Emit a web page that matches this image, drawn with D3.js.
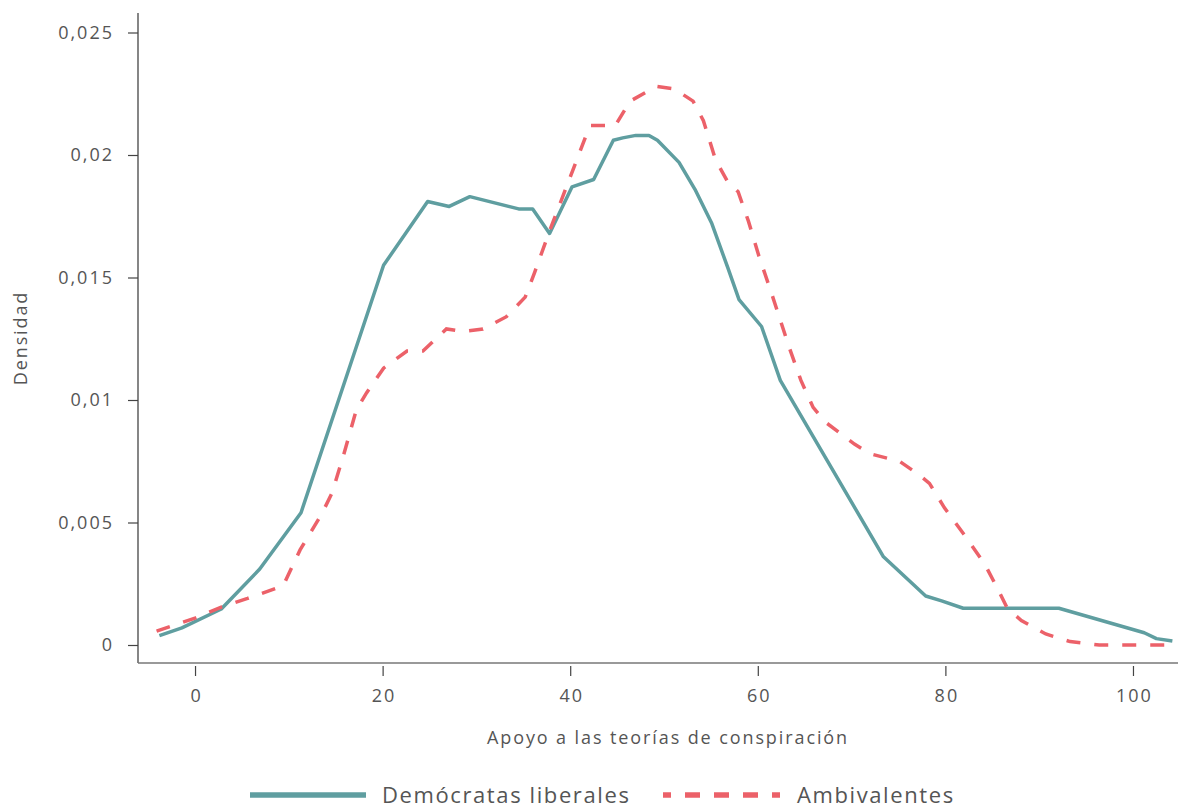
<!DOCTYPE html>
<html>
<head>
<meta charset="utf-8">
<script src="https://cdn.jsdelivr.net/npm/d3@7"></script>
<style>
  html, body { margin: 0; padding: 0; background: #fff; }
  svg { display: block; font-family: "Open Sans", sans-serif; }
</style>
</head>
<body>
<script>
// ---------- data ----------
const seriesNames = ["Demócratas liberales", "Ambivalentes"];
const seriesColors = ["#5f9ea0", "#ec6169"];

const demX = [-3.8, -1.4, 2.8, 6.9, 11.3, 20.1, 24.8, 27.1, 29.3, 34.5, 36.0, 37.8, 40.2, 42.5, 44.6, 45.6, 47.0, 48.4, 49.3, 51.6, 53.3, 55.1, 56.8, 58.0, 60.4, 62.4, 73.4, 77.9, 79.6, 81.9, 92.1, 101.2, 102.5, 104.2];
const demY = [0.00038, 0.0007, 0.00147, 0.0031, 0.0054, 0.0155, 0.0181, 0.0179, 0.0183, 0.0178, 0.0178, 0.0168, 0.0187, 0.0190, 0.0206, 0.0207, 0.0208, 0.0208, 0.0206, 0.0197, 0.0186, 0.0172, 0.0154, 0.0141, 0.0130, 0.0108, 0.0036, 0.0020, 0.0018, 0.0015, 0.0015, 0.0005, 0.00026, 0.00016];

const ambX = [-4.1, 0, 2.8, 5.6, 9.4, 11.2, 13.5, 14.6, 15.8, 17.2, 18.3, 20.1, 22.6, 24.3, 26.8, 28.6, 30.7, 33.2, 35.2, 36.2, 37.8, 39.6, 42.1, 44.8, 46.4, 49.2, 51.1, 53.1, 54.2, 55.5, 56.8, 57.9, 59.0, 60.1, 61.6, 63.3, 64.6, 65.9, 67.2, 70.3, 72.0, 75.1, 77.0, 78.3, 79.9, 82.0, 84.2, 85.7, 86.6, 88.1, 90.7, 93.3, 96.4, 104.2];
const ambY = [0.00057, 0.0011, 0.00155, 0.0019, 0.00242, 0.00388, 0.00534, 0.0062, 0.0077, 0.0096, 0.0103, 0.0113, 0.0120, 0.0120, 0.0129, 0.0128, 0.0129, 0.0134, 0.0142, 0.0152, 0.0169, 0.0187, 0.0212, 0.0212, 0.0222, 0.0228, 0.0227, 0.0222, 0.0214, 0.0198, 0.0189, 0.0185, 0.0173, 0.0159, 0.0142, 0.0122, 0.0108, 0.0097, 0.0091, 0.0082, 0.0078, 0.0075, 0.0070, 0.0066, 0.0056, 0.0045, 0.0033, 0.0022, 0.0015, 0.0010, 0.00045, 0.00014, 0.0, 0.0];

const xTicks = [0, 20, 40, 60, 80, 100];
const xTickLabels = ["0", "20", "40", "60", "80", "100"];
const yTicks = [0, 0.005, 0.01, 0.015, 0.02, 0.025];
const yTickLabels = ["0", "0,005", "0,01", "0,015", "0,02", "0,025"];

const xTitle = "Apoyo a las teorías de conspiración";
const yTitle = "Densidad";

// ---------- layout ----------
const W = 1178, H = 808;
const plotL = 138, plotR = 1178, plotT = 13, plotB = 663;

const x = d3.scaleLinear().domain([-6.08, 104.8]).range([plotL, plotR]);
const y = d3.scaleLinear().domain([0, 0.025]).range([645, 32.5]);

const svg = d3.select("body").append("svg").attr("width", W).attr("height", H);

// axes lines
svg.append("line").attr("x1", plotL).attr("x2", plotL).attr("y1", plotT).attr("y2", plotB)
  .attr("stroke", "#444").attr("stroke-width", 1.3);
svg.append("line").attr("x1", plotL).attr("x2", plotR).attr("y1", plotB).attr("y2", plotB)
  .attr("stroke", "#777").attr("stroke-width", 1.5);

// y axis
const yAxis = d3.axisLeft(y).tickValues(yTicks).tickSize(10).tickPadding(14)
  .tickFormat((d, i) => yTickLabels[i]);
const gy = svg.append("g").attr("transform", `translate(${plotL},0)`).call(yAxis);
gy.select(".domain").remove();
gy.selectAll(".tick line").attr("stroke", "#444").attr("stroke-width", 1.2);
gy.selectAll(".tick text").attr("fill", "#555").style("font-size", "18px")
  .style("letter-spacing", "2px").style("font-family", "'Open Sans', sans-serif");

// x axis
const xAxis = d3.axisBottom(x).tickValues(xTicks).tickSize(10).tickPadding(13)
  .tickFormat((d, i) => xTickLabels[i]);
const gx = svg.append("g").attr("transform", `translate(0,${plotB + 3})`).call(xAxis);
gx.select(".domain").remove();
gx.selectAll(".tick line").attr("stroke", "#444").attr("stroke-width", 1.2);
gx.selectAll(".tick text").attr("fill", "#555").style("font-size", "18px")
  .style("letter-spacing", "2px").attr("dx", "1px").style("font-family", "'Open Sans', sans-serif");

// titles
svg.append("text").attr("x", (x(0) + x(100)) / 2 + 4).attr("y", 744)
  .attr("text-anchor", "middle").attr("fill", "#555")
  .style("font-size", "18px").style("letter-spacing", "1.9px").text(xTitle);
svg.append("text").attr("transform", `translate(27,338) rotate(-90)`)
  .attr("text-anchor", "middle").attr("fill", "#555")
  .style("font-size", "18px").style("letter-spacing", "1.9px").text(yTitle);

// lines
const line = d3.line().x(d => x(d[0])).y(d => y(d[1])).curve(d3.curveLinear);
const dem = demX.map((v, i) => [v, demY[i]]);
const amb = ambX.map((v, i) => [v, ambY[i]]);

svg.append("path").datum(dem).attr("d", line).attr("fill", "none")
  .attr("stroke", seriesColors[0]).attr("stroke-width", 3.5).attr("stroke-linejoin", "round");
svg.append("path").datum(amb).attr("d", line).attr("fill", "none")
  .attr("stroke", seriesColors[1]).attr("stroke-width", 3.5)
  .attr("stroke-dasharray", "14,14");

// legend
const leg = svg.append("g");
leg.append("line").attr("x1", 250).attr("x2", 366).attr("y1", 795).attr("y2", 795)
  .attr("stroke", seriesColors[0]).attr("stroke-width", 5.5);
leg.append("text").attr("x", 382).attr("y", 803).attr("fill", "#555")
  .style("font-size", "22px").style("letter-spacing", "1.6px").text(seriesNames[0]);
leg.append("line").attr("x1", 663).attr("x2", 780).attr("y1", 795).attr("y2", 795)
  .attr("stroke", seriesColors[1]).attr("stroke-width", 5.5)
  .attr("stroke-dasharray", "8,14,15,14,15,14,15,14,15");
leg.append("text").attr("x", 797).attr("y", 803).attr("fill", "#555")
  .style("font-size", "22px").style("letter-spacing", "1.6px").text(seriesNames[1]);
</script>
</body>
</html>
